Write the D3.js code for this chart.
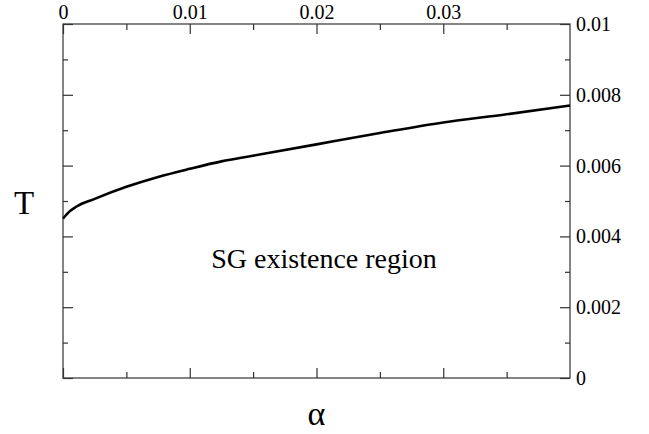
<!DOCTYPE html>
<html>
<head>
<meta charset="utf-8">
<script src="https://cdn.jsdelivr.net/npm/d3@7"></script>
<style>
  body { margin: 0; background: #fff; }
  .axis path, .axis line { stroke: #333; stroke-width: 1.2; }
</style>
</head>
<body>
<script>
// curve: T versus alpha
var alpha = [0, 0.0005, 0.001, 0.0025, 0.005, 0.0075, 0.01, 0.0125, 0.015, 0.02, 0.025, 0.03, 0.035, 0.04];
var tempT = [0.00450, 0.00470, 0.00483, 0.00506, 0.00540, 0.00568, 0.00591, 0.00612, 0.00628, 0.00660, 0.00692, 0.00722, 0.00745, 0.00770];

var xTicks = [0, 0.01, 0.02, 0.03];
var xTickLabels = ["0", "0.01", "0.02", "0.03"];
var xMinor = [0.005, 0.015, 0.025, 0.035];
var yTicks = [0, 0.002, 0.004, 0.006, 0.008, 0.01];
var yTickLabels = ["0", "0.002", "0.004", "0.006", "0.008", "0.01"];
var yMinor = [0.001, 0.003, 0.005, 0.007, 0.009];

var serif = "Liberation Serif";

var w = 649, h = 434;
var margin = {top: 24, right: 79, bottom: 56, left: 63};
var width = w - margin.left - margin.right,
    height = h - margin.top - margin.bottom;

var svg = d3.select("body").append("svg")
    .attr("width", w)
    .attr("height", h);

var g = svg.append("g")
    .attr("transform", "translate(" + margin.left + "," + margin.top + ")");

var x = d3.scaleLinear().domain([0, 0.04]).range([0, width]);
var y = d3.scaleLinear().domain([0, 0.01]).range([height, 0]);

// frame
g.append("rect")
    .attr("width", width)
    .attr("height", height)
    .attr("fill", "none")
    .attr("stroke", "#333")
    .attr("stroke-width", 1.2);

// top axis with labels
var topAxis = g.append("g").attr("class", "axis")
    .call(d3.axisTop(x).tickValues(xTicks).tickSize(-10).tickPadding(5)
        .tickFormat(function (d, i) { return xTickLabels[i]; }));
topAxis.attr("font-family", serif).attr("font-size", 20);
topAxis.selectAll("text").attr("fill", "#000");

g.append("g").attr("class", "axis")
    .call(d3.axisTop(x).tickValues(xMinor).tickSize(-6).tickFormat(""));

// bottom axis, ticks only
g.append("g").attr("class", "axis")
    .attr("transform", "translate(0," + height + ")")
    .call(d3.axisBottom(x).tickValues(xTicks).tickSize(-10).tickFormat(""));
g.append("g").attr("class", "axis")
    .attr("transform", "translate(0," + height + ")")
    .call(d3.axisBottom(x).tickValues(xMinor).tickSize(-6).tickFormat(""));

// left axis, ticks only
g.append("g").attr("class", "axis")
    .call(d3.axisLeft(y).tickValues(yTicks).tickSize(-10).tickFormat(""));
g.append("g").attr("class", "axis")
    .call(d3.axisLeft(y).tickValues(yMinor).tickSize(-5).tickFormat(""));

// right axis with labels
var rightAxis = g.append("g").attr("class", "axis")
    .attr("transform", "translate(" + width + ",0)")
    .call(d3.axisRight(y).tickValues(yTicks).tickSize(-10).tickPadding(6)
        .tickFormat(function (d, i) { return yTickLabels[i]; }));
rightAxis.attr("font-family", serif).attr("font-size", 20);
rightAxis.selectAll("text").attr("fill", "#000");

g.append("g").attr("class", "axis")
    .attr("transform", "translate(" + width + ",0)")
    .call(d3.axisRight(y).tickValues(yMinor).tickSize(-5).tickFormat(""));

g.selectAll(".axis .domain").remove();

// the curve
var pts = alpha.map(function (a, i) { return [a, tempT[i]]; });
var line = d3.line()
    .x(function (d) { return x(d[0]); })
    .y(function (d) { return y(d[1]); })
    .curve(d3.curveMonotoneX);

g.append("path")
    .datum(pts)
    .attr("d", line)
    .attr("fill", "none")
    .attr("stroke", "#000")
    .attr("stroke-width", 2.6);

// texts
g.append("text")
    .attr("x", x(0.0117))
    .attr("y", y(0.0031))
    .attr("font-family", serif)
    .attr("font-size", 28)
    .text("SG existence region");

svg.append("text")
    .attr("x", 24)
    .attr("y", 214)
    .attr("text-anchor", "middle")
    .attr("font-family", serif)
    .attr("font-size", 33)
    .text("T");

svg.append("text")
    .attr("x", margin.left + x(0.02))
    .attr("y", 425)
    .attr("text-anchor", "middle")
    .attr("font-family", serif)
    .attr("font-size", 34)
    .text("α");
</script>
</body>
</html>
